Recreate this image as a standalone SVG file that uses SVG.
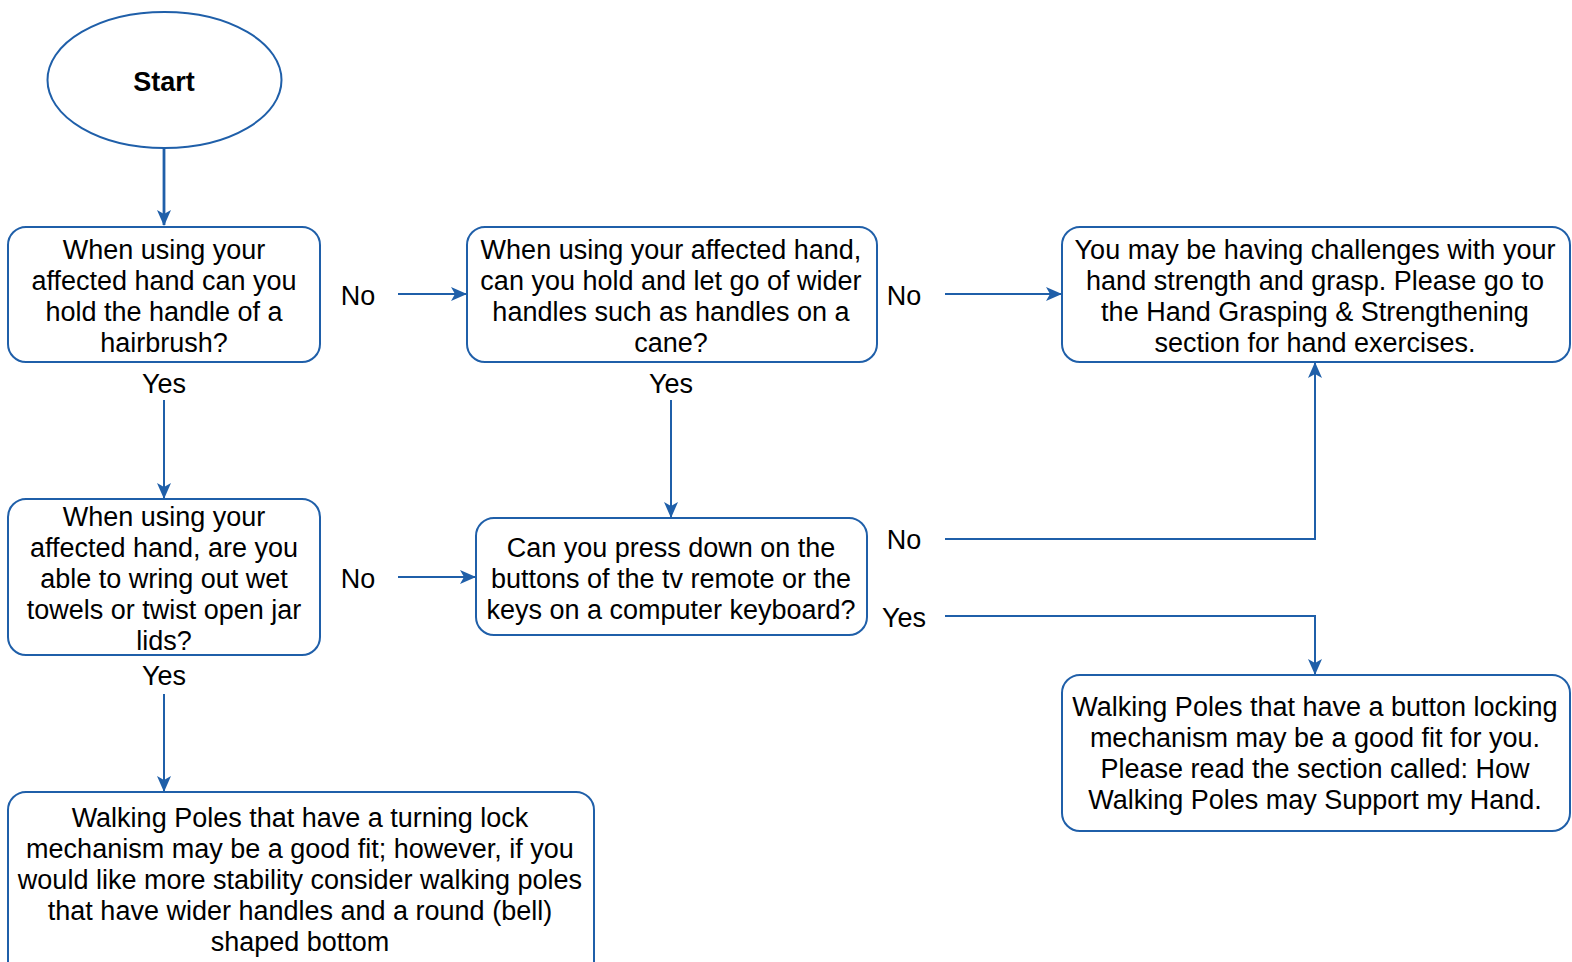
<svg xmlns="http://www.w3.org/2000/svg" width="1572" height="962" viewBox="0 0 1572 962">
<style>
.n{fill:#fff;stroke:#1f5fa9;stroke-width:2}
.t{font-family:"Liberation Sans",Arial,sans-serif;font-size:27px;fill:#000;text-anchor:middle}
.b{font-weight:bold;font-size:27px}
.c{fill:none;stroke:#1f5fa9;stroke-width:2}
</style>
<defs>
<marker id="ahL" markerWidth="16" markerHeight="16" refX="15" refY="8" orient="auto" markerUnits="userSpaceOnUse" viewBox="0 0 16 16">
<path d="M0,1 L16,8 L0,15 L4,8 Z" fill="#1f5fa9"/>
</marker>
</defs>
<g id="connectors">
<path class="c" d="M164,148 L164,225" style="stroke-width:2.8" marker-end="url(#ahL)"/>
<path class="c" d="M398,294 L466,294" marker-end="url(#ahL)"/>
<path class="c" d="M945,294 L1061,294" marker-end="url(#ahL)"/>
<path class="c" d="M164,400 L164,498" marker-end="url(#ahL)"/>
<path class="c" d="M671,400 L671,517" marker-end="url(#ahL)"/>
<path class="c" d="M398,577 L475,577" marker-end="url(#ahL)"/>
<path class="c" d="M945,539 L1315,539 L1315,363" marker-end="url(#ahL)"/>
<path class="c" d="M945,616 L1315,616 L1315,674" marker-end="url(#ahL)"/>
<path class="c" d="M164,694 L164,791" marker-end="url(#ahL)"/>
</g>
<g id="start">
<ellipse class="n" cx="164.5" cy="80" rx="117" ry="68"/>
<text class="t b" x="164" y="91">Start</text>
</g>
<g id="q1">
<rect class="n" x="8" y="227" width="312" height="135" rx="18"/>
<text class="t" x="164" y="259">When using your</text>
<text class="t" x="164" y="290">affected hand can you</text>
<text class="t" x="164" y="321">hold the handle of a</text>
<text class="t" x="164" y="352">hairbrush?</text>
</g>
<g id="q2">
<rect class="n" x="467" y="227" width="410" height="135" rx="18"/>
<text class="t" x="671" y="259">When using your affected hand,</text>
<text class="t" x="671" y="290">can you hold and let go of wider</text>
<text class="t" x="671" y="321">handles such as handles on a</text>
<text class="t" x="671" y="352">cane?</text>
</g>
<g id="r1">
<rect class="n" x="1062" y="227" width="508" height="135" rx="18"/>
<text class="t" x="1315" y="259">You may be having challenges with your</text>
<text class="t" x="1315" y="290">hand strength and grasp. Please go to</text>
<text class="t" x="1315" y="321">the Hand Grasping &amp; Strengthening</text>
<text class="t" x="1315" y="352">section for hand exercises.</text>
</g>
<g id="q3">
<rect class="n" x="8" y="499" width="312" height="156" rx="18"/>
<text class="t" x="164" y="526">When using your</text>
<text class="t" x="164" y="557">affected hand, are you</text>
<text class="t" x="164" y="588">able to wring out wet</text>
<text class="t" x="164" y="619">towels or twist open jar</text>
<text class="t" x="164" y="650">lids?</text>
</g>
<g id="q4">
<rect class="n" x="476" y="518" width="391" height="117" rx="18"/>
<text class="t" x="671" y="557">Can you press down on the</text>
<text class="t" x="671" y="588">buttons of the tv remote or the</text>
<text class="t" x="671" y="619">keys on a computer keyboard?</text>
</g>
<g id="r2">
<rect class="n" x="1062" y="675" width="508" height="156" rx="18"/>
<text class="t" x="1315" y="716">Walking Poles that have a button locking</text>
<text class="t" x="1315" y="747">mechanism may be a good fit for you.</text>
<text class="t" x="1315" y="778">Please read the section called: How</text>
<text class="t" x="1315" y="809">Walking Poles may Support my Hand.</text>
</g>
<g id="r3">
<rect class="n" x="8" y="792" width="586" height="190" rx="18"/>
<text class="t" x="300" y="827">Walking Poles that have a turning lock</text>
<text class="t" x="300" y="858">mechanism may be a good fit; however, if you</text>
<text class="t" x="300" y="889">would like more stability consider walking poles</text>
<text class="t" x="300" y="920">that have wider handles and a round (bell)</text>
<text class="t" x="300" y="951">shaped bottom</text>
</g>
<g id="labels">
<text class="t" x="358" y="305">No</text>
<text class="t" x="904" y="305">No</text>
<text class="t" x="164" y="393">Yes</text>
<text class="t" x="671" y="393">Yes</text>
<text class="t" x="358" y="588">No</text>
<text class="t" x="904" y="549">No</text>
<text class="t" x="904" y="627">Yes</text>
<text class="t" x="164" y="685">Yes</text>
</g>
</svg>
